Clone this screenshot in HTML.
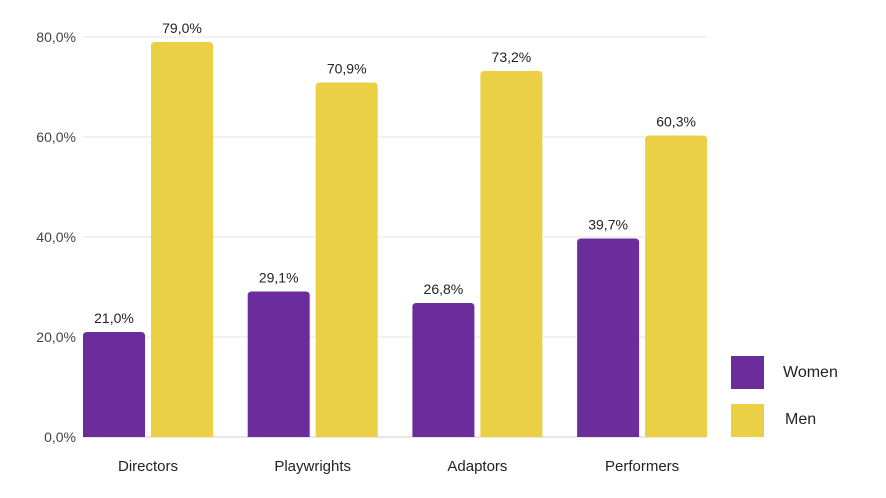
<!DOCTYPE html>
<html><head><meta charset="utf-8"><style>
html,body{margin:0;padding:0;background:#fff;}
svg{display:block;font-family:"Liberation Sans",sans-serif;}
</style></head><body>
<svg id="chart" width="886" height="498">
<g id="grid"></g>
<g id="bars"></g>
<g id="labels"></g>
<g>
<rect x="731" y="356" width="33" height="33" fill="#6b2d9b"/>
<text x="783" y="377" font-size="16" fill="#222">Women</text>
<rect x="731" y="404" width="33" height="33" fill="#ebcf45"/>
<text x="785" y="424" font-size="16" fill="#222">Men</text>
</g>
</svg>
<script>
const categories=["Directors","Playwrights","Adaptors","Performers"];
const women=[21.0,29.1,26.8,39.7];
const men=[79.0,70.9,73.2,60.3];
const ticks=[0,20,40,60,80];
const NS="http://www.w3.org/2000/svg";
const y0=437,pxPer=5;
const y=v=>y0-v*pxPer;
const groupX=i=>83+i*164.7;
const bw=62;
const fmt=v=>v.toFixed(1).replace('.',',')+'%';
function mk(t,a,parent){const e=document.createElementNS(NS,t);for(const k in a)e.setAttribute(k,a[k]);parent.appendChild(e);return e;}
const grid=document.getElementById('grid'),bars=document.getElementById('bars'),labels=document.getElementById('labels');
ticks.forEach(t=>{
  const l=mk('line',{x1:83,x2:706,y1:y(t),y2:y(t),stroke:t===0?'#cfcfcf':'#e4e4e4','stroke-width':1},grid);
  
  
  const tx=mk('text',{x:76,y:y(t)+5,'text-anchor':'end','font-size':14,fill:'#444'},grid);
  tx.textContent=t.toFixed(1).replace('.',',')+'%';
  
  
});
function bar(x,v,color,name){
  const top=y(v),h=y0-top,r=4;
  const p=mk('path',{d:`M${x},${y0}V${top+r}Q${x},${top} ${x+r},${top}H${x+bw-r}Q${x+bw},${top} ${x+bw},${top+r}V${y0}Z`,fill:color},bars);
  
  
  const t=mk('text',{x:x+bw/2,y:top-9,'text-anchor':'middle','font-size':14,fill:'#222'},labels);
  t.textContent=fmt(v);
  
  
}
categories.forEach((c,i)=>{
  const gx=groupX(i);
  bar(gx,women[i],'#6b2d9b','bar-women-'+c.toLowerCase());
  bar(gx+68,men[i],'#ebcf45','bar-men-'+c.toLowerCase());
  const t=mk('text',{x:gx+65,y:471,'text-anchor':'middle','font-size':15,fill:'#222'},labels);
  t.textContent=c;
  
  
});
</script>
</body></html>
